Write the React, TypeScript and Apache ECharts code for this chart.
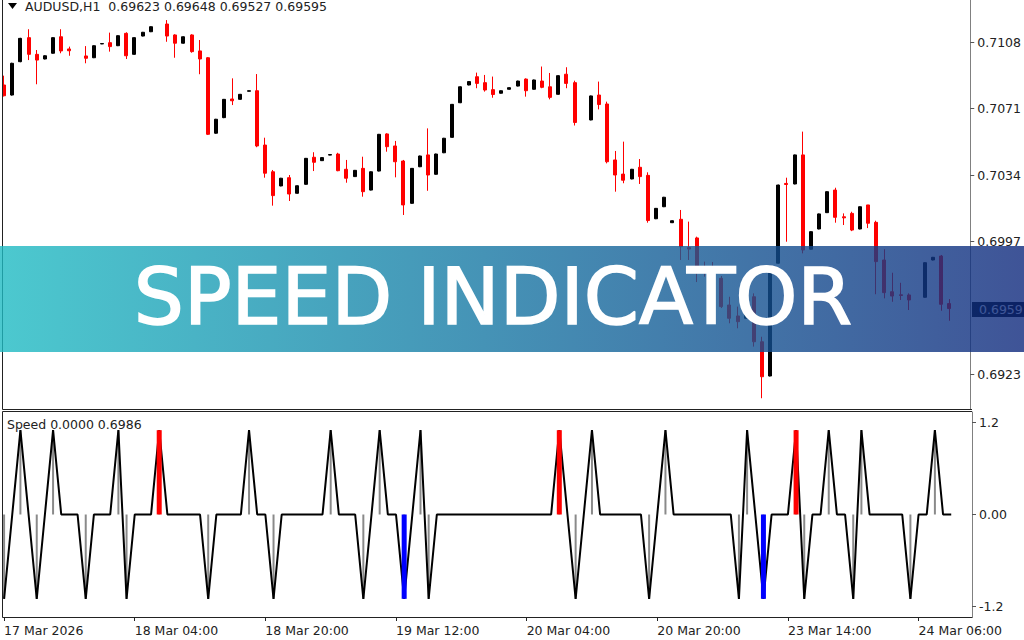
import React, { useEffect, useRef } from "react";
import * as echarts from "echarts";

// ---------- categories (hourly bars, H1) ----------
const sessions: [string, number, number][] = [
  ["17 Mar", 12, 23],
  ["18 Mar", 0, 23],
  ["19 Mar", 0, 23],
  ["20 Mar", 0, 21],
  ["23 Mar", 0, 23],
  ["24 Mar", 0, 10],
];
const categories: string[] = [];
sessions.forEach(([d, a, b]) => {
  for (let h = a; h <= b; h++) categories.push(`${d} ${String(h).padStart(2, "0")}:00`);
});
const firstLabel = "17 Mar 2026";

// ---------- OHLC (AUDUSD H1), null = no bar drawn ----------
const opens: (number | null)[] = [
  0.70842, 0.70786, 0.70972, 0.71106, 0.71013, 0.70987, 0.71019, 0.71111, 0.71043, null,
  0.71004, 0.70994, 0.71071, 0.71078, 0.71061, 0.71130, 0.71013, 0.71115, 0.71139, null,
  0.71182, 0.71121, 0.71075, 0.71121, 0.71032, 0.70994, 0.70573, 0.70660, 0.70764, 0.70762,
  0.70807, 0.70810, 0.70507, 0.70358, 0.70279, 0.70325, 0.70238, 0.70288, 0.70439, 0.70420,
  0.70451, 0.70457, 0.70372, 0.70331, 0.70377, 0.70256, 0.70362, 0.70569, 0.70502, 0.70418,
  0.70182, 0.70386, 0.70452, 0.70344, 0.70464, 0.70550, 0.70743, 0.70842, 0.70888, 0.70855,
  0.70816, 0.70796, 0.70818, 0.70836, 0.70875, 0.70818, 0.70864, 0.70832, 0.70790, 0.70902,
  0.70855, null, 0.70647, 0.70786, 0.70736, 0.70424, 0.70345, 0.70318, 0.70383, 0.70338,
  0.70096, 0.70163, 0.70074, 0.70093, 0.69935, 0.69989, 0.69827, 0.69821, 0.69764, 0.69615,
  0.69554, 0.69541, 0.69661, 0.69410, 0.69219, 0.69848, 0.70293, 0.70290, 0.70452, 0.69926,
  0.70039, 0.70130, 0.70256, 0.70107, 0.70126, 0.70039, 0.70173, 0.70076, 0.69866, 0.69689,
  0.69672, 0.69671, null, 0.69658, 0.69866, 0.69888, 0.69623,
];
const highs: (number | null)[] = [
  0.70894, 0.70966, 0.71105, 0.71153, 0.71037, 0.71008, 0.71108, 0.71153, 0.71056, null,
  0.71059, 0.71063, 0.71074, 0.71134, 0.71119, 0.71136, 0.71108, 0.71138, 0.71169, null,
  0.71204, 0.71125, 0.71113, 0.71125, 0.71093, 0.70998, 0.70653, 0.70764, 0.70879, 0.70792,
  0.70811, 0.70903, 0.70548, 0.70368, 0.70324, 0.70340, 0.70282, 0.70435, 0.70467, 0.70439,
  0.70455, 0.70464, 0.70424, 0.70368, 0.70442, 0.70360, 0.70569, 0.70573, 0.70530, 0.70424,
  0.70379, 0.70448, 0.70600, 0.70459, 0.70547, 0.70736, 0.70834, 0.70863, 0.70911, 0.70898,
  0.70889, 0.70812, 0.70829, 0.70866, 0.70879, 0.70872, 0.70945, 0.70909, 0.70896, 0.70941,
  0.70866, null, 0.70783, 0.70861, 0.70749, 0.70474, 0.70526, 0.70374, 0.70429, 0.70355,
  0.70156, 0.70218, 0.70087, 0.70145, 0.70080, 0.69996, 0.69857, 0.69855, 0.69777, 0.69661,
  0.69606, 0.69580, 0.69680, 0.69438, 0.69836, 0.70286, 0.70325, 0.70454, 0.70582, 0.70026,
  0.70125, 0.70249, 0.70269, 0.70126, 0.70135, 0.70165, 0.70173, 0.70085, 0.69926, 0.69795,
  0.69739, 0.69680, null, 0.69853, 0.69883, 0.69894, 0.69648,
];
const lows: (number | null)[] = [
  0.70778, 0.70783, 0.70969, 0.70981, 0.70846, 0.70985, 0.71017, 0.71019, 0.71005, null,
  0.70963, 0.70992, 0.71070, 0.71028, 0.71059, 0.70987, 0.71011, 0.71113, 0.71137, null,
  0.71083, 0.70994, 0.71073, 0.71022, 0.70902, 0.70563, 0.70570, 0.70657, 0.70730, 0.70760,
  0.70806, 0.70495, 0.70325, 0.70169, 0.70277, 0.70195, 0.70236, 0.70286, 0.70362, 0.70418,
  0.70450, 0.70361, 0.70297, 0.70329, 0.70219, 0.70254, 0.70360, 0.70470, 0.70327, 0.70117,
  0.70180, 0.70384, 0.70252, 0.70342, 0.70462, 0.70548, 0.70741, 0.70840, 0.70824, 0.70805,
  0.70771, 0.70794, 0.70816, 0.70834, 0.70777, 0.70816, 0.70824, 0.70762, 0.70788, 0.70824,
  0.70616, null, 0.70645, 0.70706, 0.70405, 0.70247, 0.70294, 0.70316, 0.70290, 0.70074,
  0.70094, 0.70161, 0.70072, 0.69866, 0.69866, 0.69743, 0.69773, 0.69727, 0.69598, 0.69513,
  0.69485, 0.69539, 0.69383, 0.69095, 0.69217, 0.69846, 0.69968, 0.70288, 0.69903, 0.69924,
  0.70037, 0.70128, 0.70074, 0.70061, 0.70027, 0.70037, 0.70044, 0.69675, 0.69652, 0.69633,
  0.69643, 0.69587, null, 0.69656, 0.69864, 0.69583, 0.69527,
];
const closes: (number | null)[] = [
  0.70782, 0.70963, 0.71102, 0.71013, 0.70981, 0.71005, 0.71106, 0.71032, 0.71033, null,
  0.70991, 0.71061, 0.71073, 0.71056, 0.71117, 0.71005, 0.71106, 0.71136, 0.71167, null,
  0.71115, 0.71075, 0.71111, 0.71028, 0.70987, 0.70567, 0.70651, 0.70762, 0.70754, 0.70790,
  0.70810, 0.70502, 0.70350, 0.70225, 0.70322, 0.70234, 0.70280, 0.70433, 0.70411, 0.70437,
  0.70454, 0.70364, 0.70322, 0.70366, 0.70247, 0.70358, 0.70567, 0.70498, 0.70414, 0.70173,
  0.70377, 0.70446, 0.70340, 0.70457, 0.70545, 0.70734, 0.70832, 0.70861, 0.70851, 0.70814,
  0.70789, 0.70810, 0.70827, 0.70864, 0.70810, 0.70870, 0.70829, 0.70773, 0.70894, 0.70851,
  0.70633, null, 0.70781, 0.70733, 0.70414, 0.70340, 0.70311, 0.70372, 0.70331, 0.70086,
  0.70154, 0.70216, 0.70085, 0.69940, 0.69927, 0.69799, 0.69810, 0.69799, 0.69606, 0.69541,
  0.69522, 0.69578, 0.69410, 0.69215, 0.69833, 0.70284, 0.70287, 0.70452, 0.69922, 0.70024,
  0.70123, 0.70247, 0.70104, 0.70101, 0.70033, 0.70163, 0.70071, 0.69857, 0.69684, 0.69665,
  0.69668, 0.69643, null, 0.69851, 0.69881, 0.69619, 0.69595,
];

// ---------- Speed indicator ----------
const speedValues: number[] = [
  -1.1, 0, 1.1, 0, -1.1, 0, 1.1, 0, 0, 0,
  -1.1, 0, 0, 0, 1.1, -1.1, 0, 0, 0, 1.1,
  0, 0, 0, 0, 0, -1.1, 0, 0, 0, 0,
  1.1, 0, 0, -1.1, 0, 0, 0, 0, 0, 0,
  1.1, 0, 0, 0, -1.1, 0, 1.1, 0, 0, -1.1,
  0, 1.1, -1.1, 0, 0, 0, 0, 0, 0, 0,
  0, 0, 0, 0, 0, 0, 0, 0, 1.1, 0,
  -1.1, 0, 1.1, 0, 0, 0, 0, 0, 0, -1.1,
  0, 1.1, 0, 0, 0, 0, 0, 0, 0, 0,
  -1.1, 1.1, 0, -1.1, 0, 0, 0, 1.1, -1.1, 0,
  0, 1.1, 0, 0, -1.1, 1.1, 0, 0, 0, 0,
  0, -1.1, 0, 0, 1.1, 0, 0,
];
const upSignalBars = [19, 68, 97];
const downSignalBars = [49, 93];

const priceTicks = [0.7108, 0.7071, 0.7034, 0.6997, 0.6923];
const speedTicks = [1.2, 0, -1.2];

const headerText = "AUDUSD,H1  0.69623 0.69648 0.69527 0.69595";
const speedHeader = "Speed 0.0000 0.6986";
const lastPriceLabel = "0.6959";
const bannerText = "SPEED INDICATOR";

const FONT = '12.5px "DejaVu Sans"';

export default function App() {
  const ref = useRef<HTMLDivElement>(null);
  useEffect(() => {
    if (!ref.current) return;
    const chart = echarts.init(ref.current, null, { renderer: "svg" });
    const N = categories.length;
    const BAR = 8.17;
    const gridLeft = 3.5 - BAR / 2;
    const gridWidth = N * BAR;
    const axisOffset = 972 - (gridLeft + gridWidth);

    const candleData = categories.map((_, i) =>
      opens[i] == null ? "-" : [opens[i], closes[i], lows[i], highs[i]]
    );
    const grayBars = speedValues.map((v) => (v === 0 ? "-" : v));
    const signalBars = speedValues.map((v, i) => {
      if (upSignalBars.includes(i)) return { value: v, itemStyle: { color: "#ff0000" } };
      if (downSignalBars.includes(i)) return { value: v, itemStyle: { color: "#0000ff" } };
      return "-";
    });
    const labelEvery = (i: number) => i % 16 === 0;

    const option: any = {
      animation: false,
      backgroundColor: "#ffffff",
      grid: [
        { left: gridLeft, top: 0, width: gridWidth, height: 409 },
        { left: gridLeft, top: 412, width: gridWidth, height: 205 },
      ],
      xAxis: [
        { type: "category", gridIndex: 0, data: categories, show: false, boundaryGap: true },
        {
          type: "category",
          gridIndex: 1,
          data: categories,
          boundaryGap: true,
          position: "bottom",
          axisLine: { show: false, onZero: false },
          axisTick: { show: true, interval: labelEvery, alignWithLabel: true, length: 4, lineStyle: { color: "#222" } },
          axisLabel: {
            interval: labelEvery,
            align: "left",
            margin: 7,
            color: "#222",
            fontFamily: "DejaVu Sans",
            fontSize: 12.5,
            formatter: (v: string, i: number) => (i === 0 ? firstLabel : v),
          },
          splitLine: { show: false },
        },
        { type: "category", gridIndex: 1, data: categories, show: false, boundaryGap: true, axisLine: { onZero: false } },
      ],
      yAxis: [
        {
          type: "value",
          gridIndex: 0,
          position: "right",
          offset: axisOffset,
          min: 0.69035,
          max: 0.71316,
          axisLine: { show: true, lineStyle: { color: "#808080" } },
          axisTick: { show: true, customValues: priceTicks, length: 4, lineStyle: { color: "#555" } },
          axisLabel: {
            customValues: priceTicks,
            formatter: (v: number) => v.toFixed(4),
            margin: 7,
            color: "#222",
            fontFamily: "DejaVu Sans",
            fontSize: 12.5,
          },
          splitLine: { show: false },
        },
        {
          type: "value",
          gridIndex: 1,
          position: "right",
          offset: axisOffset,
          min: -1.337,
          max: 1.337,
          axisLine: { show: true, lineStyle: { color: "#808080" } },
          axisTick: { show: true, customValues: speedTicks, length: 4, lineStyle: { color: "#555" } },
          axisLabel: {
            customValues: speedTicks,
            formatter: (v: number) => (v === 0 ? "0.00" : v.toFixed(1)),
            margin: 7,
            color: "#222",
            fontFamily: "DejaVu Sans",
            fontSize: 12.5,
          },
          splitLine: { show: false },
        },
      ],
      series: [
        {
          type: "candlestick",
          xAxisIndex: 0,
          yAxisIndex: 0,
          data: candleData,
          barWidth: 3.5,
          itemStyle: {
            color: "#000000",
            color0: "#ff0000",
            borderColor: "#000000",
            borderColor0: "#ff0000",
            borderWidth: 1,
          },
        },
        {
          type: "bar",
          xAxisIndex: 1,
          yAxisIndex: 1,
          data: grayBars,
          barWidth: 2,
          itemStyle: { color: "#8a8a8a" },
          z: 2,
        },
        {
          type: "line",
          xAxisIndex: 1,
          yAxisIndex: 1,
          data: speedValues,
          symbol: "none",
          lineStyle: { color: "#000000", width: 2 },
          z: 3,
        },
        {
          type: "bar",
          xAxisIndex: 2,
          yAxisIndex: 1,
          data: signalBars,
          barWidth: 5,
          z: 4,
        },
      ],
      graphic: [
        { type: "rect", z: 99, shape: { x: 0, y: 0, width: 2.5, height: 640 }, style: { fill: "#ffffff" } },
        // frames
        { type: "line", z: 100, shape: { x1: 2.5, y1: 0, x2: 2.5, y2: 409.5 }, style: { stroke: "#222", lineWidth: 1 } },
        { type: "line", z: 100, shape: { x1: 2.5, y1: 409.5, x2: 972, y2: 409.5 }, style: { stroke: "#222", lineWidth: 1 } },
        { type: "line", z: 100, shape: { x1: 2.5, y1: 411.5, x2: 972, y2: 411.5 }, style: { stroke: "#222", lineWidth: 1 } },
        { type: "line", z: 100, shape: { x1: 2.5, y1: 411.5, x2: 2.5, y2: 617.5 }, style: { stroke: "#222", lineWidth: 1 } },
        { type: "line", z: 100, shape: { x1: 2.5, y1: 617.5, x2: 972.5, y2: 617.5 }, style: { stroke: "#222", lineWidth: 1 } },
        // header
        { type: "polygon", z: 100, shape: { points: [[8, 3], [17, 3], [12.5, 9]] }, style: { fill: "#000" } },
        {
          type: "text", z: 100, x: 25, y: 6.5,
          style: { text: headerText, font: FONT, fill: "#222", align: "left", verticalAlign: "middle" },
        },
        {
          type: "text", z: 100, x: 7, y: 424,
          style: { text: speedHeader, font: FONT, fill: "#222", align: "left", verticalAlign: "middle" },
        },
        // last price tag
        { type: "rect", z: 100, shape: { x: 972, y: 302, width: 52, height: 15 }, style: { fill: "#000000" } },
        {
          type: "text", z: 101, x: 979, y: 309.5,
          style: { text: lastPriceLabel, font: FONT, fill: "#ffffff", align: "left", verticalAlign: "middle" },
        },
        // banner
        {
          type: "rect", z: 200,
          shape: { x: 0, y: 246, width: 1024, height: 106 },
          style: {
            fill: new echarts.graphic.LinearGradient(0, 0, 1, 0, [
              { offset: 0, color: "#1fbbc3" },
              { offset: 0.5, color: "#1674a2" },
              { offset: 1, color: "#0f297d" },
            ]),
            opacity: 0.8,
          },
        },
        {
          type: "text", z: 201, x: 493, y: 297,
          style: {
            text: bannerText,
            font: '79px "DejaVu Sans"',
            fill: "#ffffff",
            stroke: "#ffffff",
            lineWidth: 1.6,
            align: "center",
            verticalAlign: "middle",
          },
        },
      ],
    };
    chart.setOption(option);
    return () => chart.dispose();
  }, []);
  return (
    <div
      ref={ref}
      style={{ position: "fixed", left: 0, top: 0, width: 1024, height: 640, background: "#fff" }}
    />
  );
}
